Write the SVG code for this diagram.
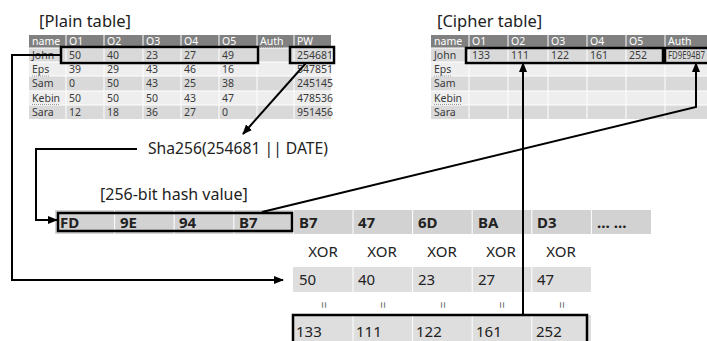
<svg xmlns="http://www.w3.org/2000/svg" width="707" height="341" viewBox="0 0 707 341">
<defs>
<style>
text{font-family:"Noto Sans","DejaVu Sans",sans-serif;fill:#222}
.t{font-size:10.5px;fill:#3a3a3a}
.h{font-size:10.5px;fill:#fff}
.hd{fill:#808080}
.r1{fill:#d9d9d9}
.r2{fill:#eeeeee}
.sep{stroke:#fff;stroke-width:1}
.title{font-size:16.5px}
.hx{font-size:15px;font-weight:bold}
.v{font-size:15px}
.hr{fill:#d2d2d2}
.vr{fill:#dedede}
.box{fill:none;stroke:#000;stroke-width:2.5}
.con{fill:none;stroke:#000;stroke-width:2}
.sq{stroke:#9a9a9a;stroke-width:1;stroke-dasharray:1,1}
.eq{font-size:12px;fill:#666}
</style>
<marker id="ah" markerUnits="userSpaceOnUse" markerWidth="10" markerHeight="10" viewBox="0 0 10 10" refX="9" refY="5" orient="auto">
<path d="M0,1 L10,5 L0,9 Z" fill="#000"/>
</marker>
</defs>
<rect width="707" height="341" fill="#fff"/>

<g id="plain-table">
<text class="title" x="39" y="27">[Plain table]</text>
<rect class="hd" x="29" y="35" width="302" height="13"/>
<rect class="r1" x="29" y="48" width="302" height="14"/>
<rect class="r2" x="29" y="62" width="302" height="14"/>
<rect class="r1" x="29" y="76" width="302" height="15"/>
<rect class="r2" x="29" y="91" width="302" height="14"/>
<rect class="r1" x="29" y="105" width="302" height="14"/>
<g class="sep">
<line x1="66" y1="35" x2="66" y2="119"/><line x1="104" y1="35" x2="104" y2="119"/><line x1="143" y1="35" x2="143" y2="119"/><line x1="181" y1="35" x2="181" y2="119"/><line x1="219" y1="35" x2="219" y2="119"/><line x1="257" y1="35" x2="257" y2="119"/><line x1="294" y1="35" x2="294" y2="119"/>
<line x1="29" y1="48" x2="331" y2="48"/><line x1="29" y1="62" x2="331" y2="62"/><line x1="29" y1="76" x2="331" y2="76"/><line x1="29" y1="91" x2="331" y2="91"/><line x1="29" y1="105" x2="331" y2="105"/>
</g>
<text class="h" x="32" y="45">name</text><text class="h" x="69" y="45">O1</text><text class="h" x="107" y="45">O2</text><text class="h" x="146" y="45">O3</text><text class="h" x="184" y="45">O4</text><text class="h" x="222" y="45">O5</text><text class="h" x="260" y="45">Auth</text><text class="h" x="297" y="45">PW</text>
<text class="t" x="32" y="59">John</text><text class="t" x="69" y="59">50</text><text class="t" x="107" y="59">40</text><text class="t" x="146" y="59">23</text><text class="t" x="184" y="59">27</text><text class="t" x="222" y="59">49</text><text class="t" x="297" y="59">254681</text>
<text class="t" x="32" y="73">Eps</text><text class="t" x="69" y="73">39</text><text class="t" x="107" y="73">29</text><text class="t" x="146" y="73">43</text><text class="t" x="184" y="73">46</text><text class="t" x="222" y="73">16</text><text class="t" x="297" y="73">547851</text>
<text class="t" x="32" y="87">Sam</text><text class="t" x="69" y="87">0</text><text class="t" x="107" y="87">50</text><text class="t" x="146" y="87">43</text><text class="t" x="184" y="87">25</text><text class="t" x="222" y="87">38</text><text class="t" x="297" y="87">245145</text>
<text class="t" x="32" y="102">Kebin</text><text class="t" x="69" y="102">50</text><text class="t" x="107" y="102">50</text><text class="t" x="146" y="102">50</text><text class="t" x="184" y="102">43</text><text class="t" x="222" y="102">47</text><text class="t" x="297" y="102">478536</text>
<text class="t" x="32" y="116">Sara</text><text class="t" x="69" y="116">12</text><text class="t" x="107" y="116">18</text><text class="t" x="146" y="116">36</text><text class="t" x="184" y="116">27</text><text class="t" x="222" y="116">0</text><text class="t" x="297" y="116">951456</text>
<line class="sq" x1="32" y1="76" x2="50" y2="76"/><line class="sq" x1="32" y1="104.5" x2="60" y2="104.5"/><line class="sq" x1="260" y1="47.5" x2="283" y2="47.5"/>
<rect class="box" x="61" y="47" width="197" height="16"/>
<rect class="box" x="290" y="47" width="44" height="16"/>
</g>

<g id="cipher-table">
<text class="title" x="437" y="27">[Cipher table]</text>
<rect class="hd" x="431" y="35" width="290" height="13"/>
<rect class="r1" x="431" y="48" width="290" height="14"/>
<rect class="r2" x="431" y="62" width="290" height="14"/>
<rect class="r1" x="431" y="76" width="290" height="15"/>
<rect class="r2" x="431" y="91" width="290" height="14"/>
<rect class="r1" x="431" y="105" width="290" height="14"/>
<g class="sep">
<line x1="469" y1="35" x2="469" y2="119"/><line x1="508" y1="35" x2="508" y2="119"/><line x1="548" y1="35" x2="548" y2="119"/><line x1="587" y1="35" x2="587" y2="119"/><line x1="626" y1="35" x2="626" y2="119"/><line x1="665" y1="35" x2="665" y2="119"/>
<line x1="431" y1="48" x2="721" y2="48"/><line x1="431" y1="62" x2="721" y2="62"/><line x1="431" y1="76" x2="721" y2="76"/><line x1="431" y1="91" x2="721" y2="91"/><line x1="431" y1="105" x2="721" y2="105"/>
</g>
<text class="h" x="434" y="45">name</text><text class="h" x="472" y="45">O1</text><text class="h" x="511" y="45">O2</text><text class="h" x="551" y="45">O3</text><text class="h" x="590" y="45">O4</text><text class="h" x="629" y="45">O5</text><text class="h" x="668" y="45">Auth</text>
<text class="t" x="434" y="59">John</text><text class="t" x="472" y="59">133</text><text class="t" x="511" y="59">111</text><text class="t" x="551" y="59">122</text><text class="t" x="590" y="59">161</text><text class="t" x="629" y="59">252</text><text class="t" x="668" y="59" textLength="37" lengthAdjust="spacingAndGlyphs">FD9E94B7</text>
<text class="t" x="434" y="73">Eps</text>
<text class="t" x="434" y="87">Sam</text>
<text class="t" x="434" y="102">Kebin</text>
<text class="t" x="434" y="116">Sara</text>
<line class="sq" x1="434" y1="76" x2="452" y2="76"/><line class="sq" x1="434" y1="104.5" x2="462" y2="104.5"/><line class="sq" x1="668" y1="47.5" x2="691" y2="47.5"/>
<rect class="box" x="466" y="48" width="197" height="15"/>
<rect class="box" x="665" y="48" width="60" height="15"/>
</g>

<g id="sha256">
<text x="148" y="154" font-size="16" textLength="180" lengthAdjust="spacingAndGlyphs">Sha256(254681 || DATE)</text>
</g>

<g id="hash-row">
<text x="100" y="200" font-size="16">[256-bit hash value]</text>
<rect class="hr" x="55" y="210" width="596" height="24"/>
<g class="sep">
<line x1="114.6" y1="210" x2="114.6" y2="234"/><line x1="174.2" y1="210" x2="174.2" y2="234"/><line x1="233.8" y1="210" x2="233.8" y2="234"/><line x1="293.4" y1="210" x2="293.4" y2="234"/><line x1="353" y1="210" x2="353" y2="234"/><line x1="412.6" y1="210" x2="412.6" y2="234"/><line x1="472.2" y1="210" x2="472.2" y2="234"/><line x1="531.8" y1="210" x2="531.8" y2="234"/><line x1="591.4" y1="210" x2="591.4" y2="234"/>
</g>
<text class="hx" x="60" y="228">FD</text><text class="hx" x="120" y="228">9E</text><text class="hx" x="179" y="228">94</text><text class="hx" x="239" y="228">B7</text><text class="hx" x="299" y="228">B7</text><text class="hx" x="358" y="228">47</text><text class="hx" x="418" y="228">6D</text><text class="hx" x="478" y="228">BA</text><text class="hx" x="537" y="228">D3</text><text class="hx" x="597" y="228">… …</text>
<rect class="box" x="58" y="213" width="234" height="18"/>
</g>

<g id="xor-row">
<text class="v" x="323" y="257" text-anchor="middle">XOR</text><text class="v" x="382" y="257" text-anchor="middle">XOR</text><text class="v" x="442" y="257" text-anchor="middle">XOR</text><text class="v" x="501" y="257" text-anchor="middle">XOR</text><text class="v" x="561" y="257" text-anchor="middle">XOR</text>
</g>

<g id="value-row">
<rect class="vr" x="293" y="267" width="298" height="25"/>
<g class="sep"><line x1="353" y1="267" x2="353" y2="292"/><line x1="412.6" y1="267" x2="412.6" y2="292"/><line x1="472.2" y1="267" x2="472.2" y2="292"/><line x1="531.8" y1="267" x2="531.8" y2="292"/></g>
<text class="v" x="299" y="285">50</text><text class="v" x="358" y="285">40</text><text class="v" x="418" y="285">23</text><text class="v" x="478" y="285">27</text><text class="v" x="537" y="285">47</text>
</g>

<g id="equals-row">
<text class="eq" transform="translate(323,305) rotate(90)" text-anchor="middle" dominant-baseline="central">=</text>
<text class="eq" transform="translate(382,305) rotate(90)" text-anchor="middle" dominant-baseline="central">=</text>
<text class="eq" transform="translate(442,305) rotate(90)" text-anchor="middle" dominant-baseline="central">=</text>
<text class="eq" transform="translate(501,305) rotate(90)" text-anchor="middle" dominant-baseline="central">=</text>
<text class="eq" transform="translate(561,305) rotate(90)" text-anchor="middle" dominant-baseline="central">=</text>
</g>

<g id="result-row">
<rect class="vr" x="293" y="315" width="298" height="30"/>
<g class="sep"><line x1="353" y1="315" x2="353" y2="345"/><line x1="412.6" y1="315" x2="412.6" y2="345"/><line x1="472.2" y1="315" x2="472.2" y2="345"/><line x1="531.8" y1="315" x2="531.8" y2="345"/></g>
<text class="v" x="296" y="337">133</text><text class="v" x="356" y="337">111</text><text class="v" x="416" y="337">122</text><text class="v" x="476" y="337">161</text><text class="v" x="536" y="337">252</text>
<rect class="box" x="293" y="315" width="294" height="32"/>
</g>

<g id="connectors">
<path class="con" d="M61,55 H12 V280 H283" marker-end="url(#ah)"/>
<path class="con" d="M306,63 L243,134" marker-end="url(#ah)"/>
<path class="con" d="M137,149 H36 V220 H57" marker-end="url(#ah)"/>
<path class="con" d="M262,212 L696,107 V63" marker-end="url(#ah)"/>
<path class="con" d="M523,315 V63" marker-end="url(#ah)"/>
</g>
</svg>
